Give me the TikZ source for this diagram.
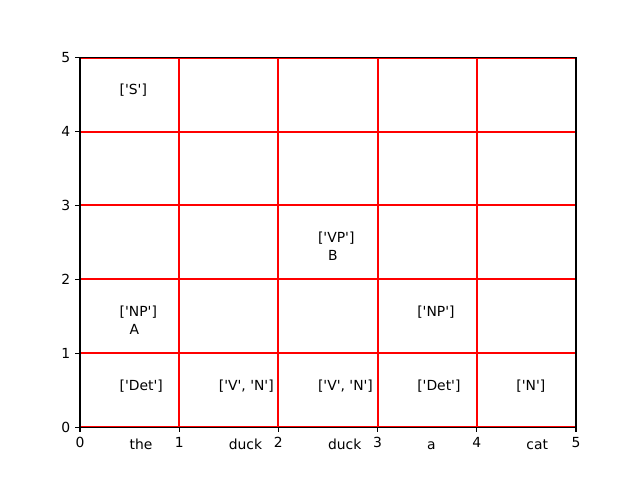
\documentclass[tikz,border=0pt]{standalone}
\usepackage{fontspec}
\newfontfamily\dv{DejaVu Sans}[Ligatures=TeXOff]
\definecolor{mplred}{RGB}{255,0,0}
\begin{document}
\begin{tikzpicture}[x=1pt,y=1pt,
  lbl/.style={inner sep=0pt,outer sep=0pt,font=\dv\fontsize{13.89}{16}\selectfont,text=black},
  cell/.style={lbl,anchor=base west},
  gridline/.style={draw=mplred,line width=2.0pt},
  spine/.style={draw=black,line width=1.11pt},
  tickmark/.style={draw=black,line width=1.11pt}]
\useasboundingbox (0,0) rectangle (640,480);
\fill[white] (0,0) rectangle (640,480);
\begin{scope}[shift={(80,52.8)},x=99.2pt,y=73.92pt]
  % red grid lines
  \foreach \i in {0,...,5} {
    \draw[gridline] (\i,0) -- (\i,5);
    \draw[gridline] (0,\i) -- (5,\i);
  }
  % spines
  \draw[spine] (0,0) rectangle (5,5);
  % ticks and tick labels
  \foreach \i in {0,...,5} {
    \coordinate (xt\i) at (\i,0);
    \coordinate (yt\i) at (0,\i);
    \draw[tickmark] (xt\i) -- ++(0,-4.86pt);
    \draw[tickmark] (yt\i) -- ++(-4.86pt,0);
    \node[lbl,anchor=north] (xl\i) at ([yshift=-9.72pt]xt\i) {\i};
    \node[lbl,anchor=east] (yl\i) at ([xshift=-9.72pt]yt\i) {\i};
  }
  % words
  \node[cell] (w0) at (0.5,-0.3) {the};
  \node[cell] (w1) at (1.5,-0.3) {duck};
  \node[cell] (w2) at (2.5,-0.3) {duck};
  \node[cell] (w3) at (3.5,-0.3) {a};
  \node[cell] (w4) at (4.5,-0.3) {cat};
  % cells
  \node[cell] (c00) at (0.4,0.5) {['Det']};
  \node[cell] (c10) at (1.4,0.5) {['V', 'N']};
  \node[cell] (c20) at (2.4,0.5) {['V', 'N']};
  \node[cell] (c30) at (3.4,0.5) {['Det']};
  \node[cell] (c40) at (4.4,0.5) {['N']};
  \node[cell] (c01) at (0.4,1.5) {['NP']};
  \node[cell] (c31) at (3.4,1.5) {['NP']};
  \node[cell] (c22) at (2.4,2.5) {['VP']};
  \node[cell] (c04) at (0.4,4.5) {['S']};
  \node[cell] (mA) at (0.5,1.25) {A};
  \node[cell] (mB) at (2.5,2.25) {B};
\end{scope}
\end{tikzpicture}
\end{document}
